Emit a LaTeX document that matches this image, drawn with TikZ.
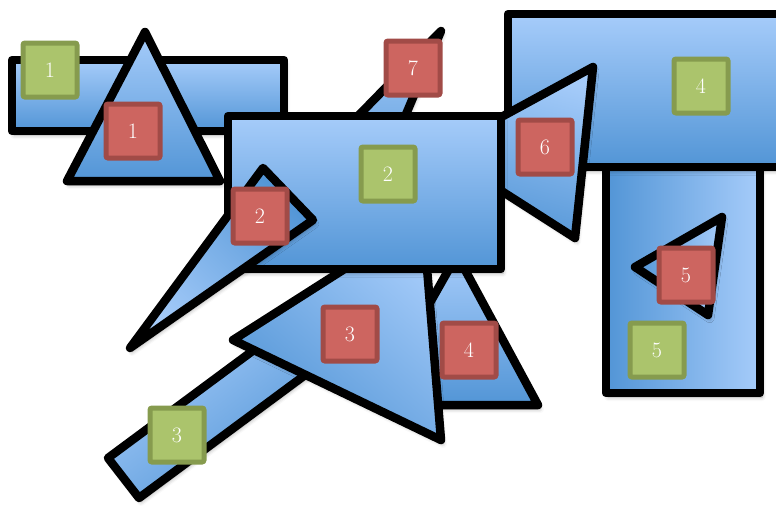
\documentclass[tikz,border=0pt]{standalone}
\usetikzlibrary{shadows.blur}
\definecolor{blueL}{RGB}{166,204,250}
\definecolor{blueD}{RGB}{82,149,214}
\definecolor{redF}{RGB}{205,101,96}
\definecolor{redB}{RGB}{161,75,71}
\definecolor{grnF}{RGB}{171,196,108}
\definecolor{grnB}{RGB}{134,155,78}
\tikzset{
  shp/.style={draw=black, line width=8.5pt, line join=round,
    top color=blueL, bottom color=blueD,
    blur shadow={shadow xshift=2pt, shadow yshift=-4pt, shadow blur radius=4pt, shadow opacity=35}},
  lab/.style={minimum size=54pt, line width=5pt, rounded corners=2pt, inner sep=0pt,
    text=white, font=\fontsize{22}{22}\selectfont},
  redlab/.style={lab, draw=redB, fill=redF},
  grnlab/.style={lab, draw=grnB, fill=grnF}
}
\begin{document}
\begin{tikzpicture}[x=1pt,y=-1pt]
\clip (0,0) rectangle (776,506);
% back shapes
\draw[shp] (12,60) rectangle (284,131);
\draw[shp] (145,32) -- (220,181) -- (67,181) -- cycle;
\draw[shp] (441,31) -- (370,200) -- (276,200) -- cycle;
\draw[shp, shading angle=-90] (606,167) rectangle (760,393);
\draw[shp, shading angle=-90] (722,217) -- (635,267) -- (708,315) -- cycle;
\draw[shp] (508,14) rectangle (800,167);
\draw[shp, shading angle=-15] (439,151) -- (593,67) -- (575,238) -- cycle;
\draw[shp, shading angle=36.5] (108,458) -- (139,498) -- (324,361) -- (293,321) -- cycle;
\draw[shp] (457,255) -- (538,405) -- (372,405) -- cycle;
\draw[shp, shading angle=-40] (233,340) -- (423,219) -- (441,440) -- cycle;
\draw[shp] (228,116) rectangle (501,269);
\draw[shp, shading angle=135] (263,168) -- (313,220) -- (130,348) -- cycle;
% labels
\node[grnlab] (g1) at (50,70) {1};
\node[grnlab] (g2) at (388,174) {2};
\node[grnlab] (g3) at (177,435) {3};
\node[grnlab] (g4) at (701,86) {4};
\node[grnlab] (g5) at (657,350) {5};
\node[redlab] (r1) at (133,131) {1};
\node[redlab] (r2) at (260,216) {2};
\node[redlab] (r3) at (350,334) {3};
\node[redlab] (r4) at (469,350) {4};
\node[redlab] (r5) at (686,275) {5};
\node[redlab] (r6) at (545,147) {6};
\node[redlab] (r7) at (413,68) {7};
\end{tikzpicture}
\end{document}
